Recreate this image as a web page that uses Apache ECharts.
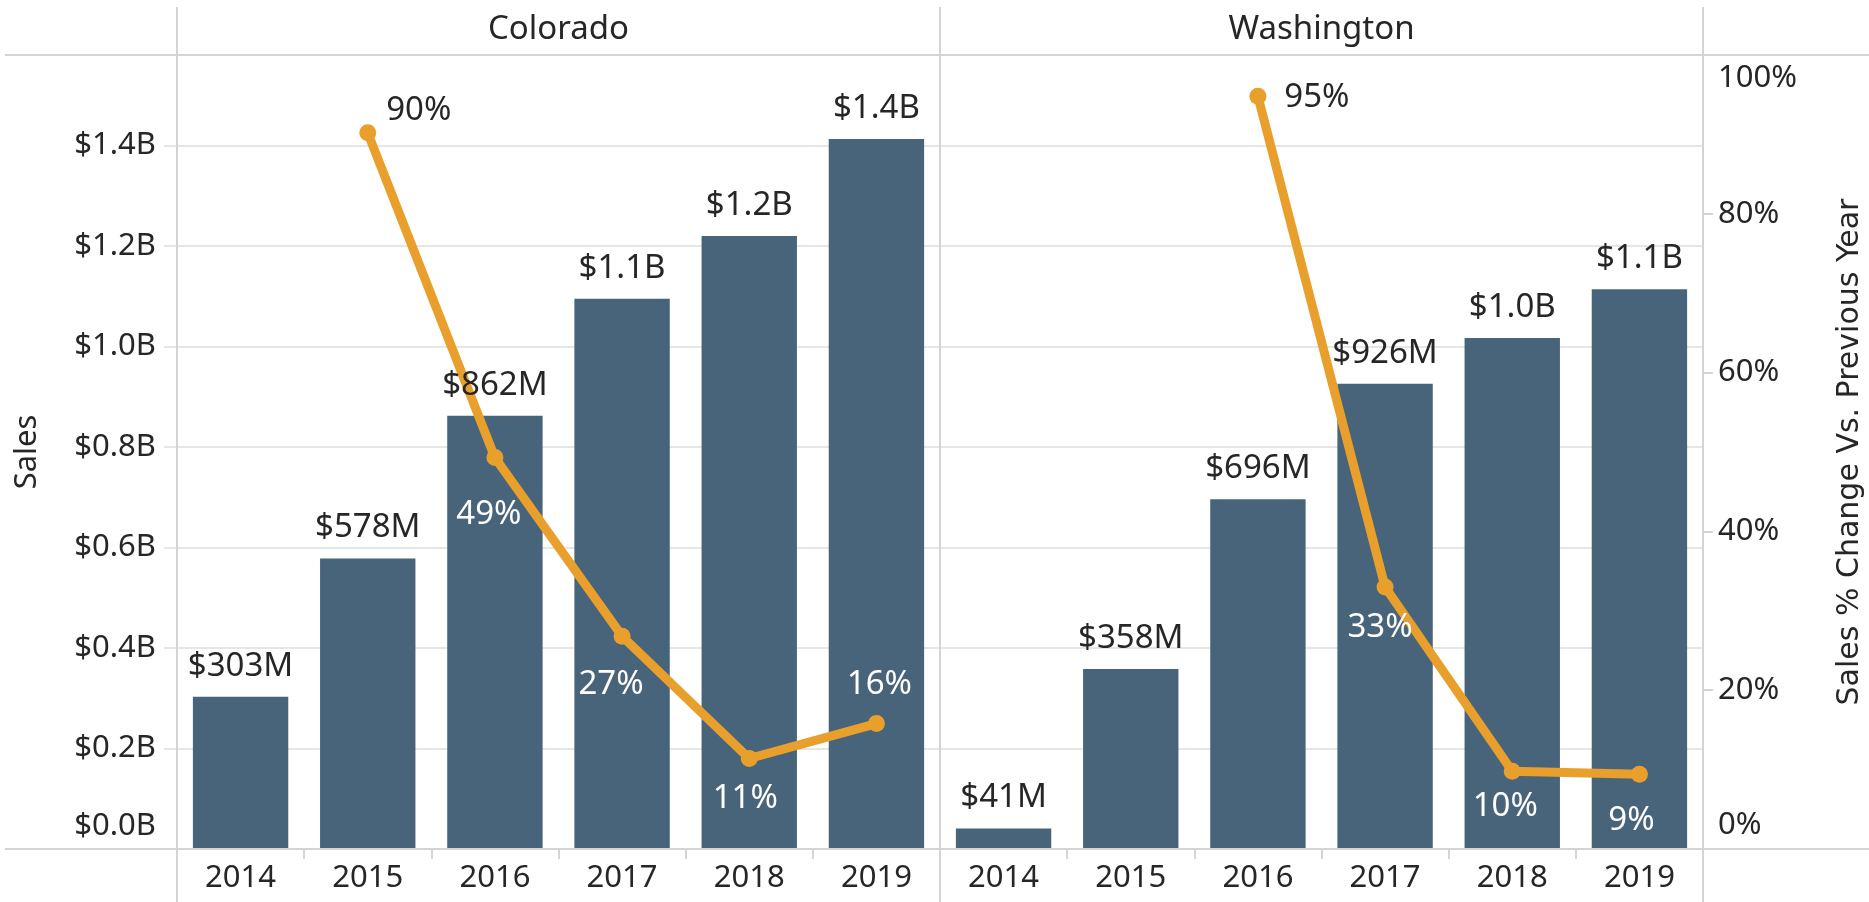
<!DOCTYPE html>
<html>
<head>
<meta charset="utf-8">
<title>Sales by state</title>
<script src="https://cdn.jsdelivr.net/npm/echarts@6/dist/echarts.min.js"></script>
<style>
  html, body { margin: 0; padding: 0; background: #fff; }
  #main { width: 1869px; height: 902px; }
</style>
</head>
<body>
<div id="main"></div>
<script>
// values: sales in $M, change vs previous year in %
var years = ["2014", "2015", "2016", "2017", "2018", "2019"];
var states = ["Colorado", "Washington"];
var coloradoSales = [303, 578, 862, 1095, 1220, 1413];
var washingtonSales = [41, 358, 696, 926, 1017, 1114];
var coloradoChange = [null, 90.2, 49.3, 26.8, 11.4, 15.8];
var washingtonChange = [null, null, 94.8, 33.0, 9.8, 9.4];
var salesTicks = [0, 200, 400, 600, 800, 1000, 1200, 1400];
var salesAxisMax = 1580;
var changeTicks = [0, 20, 40, 60, 80, 100];

var BAR = "#48647a";
var LINE = "#e99f2b";
var INK = "#262626";
var RULE = "#d4d4d4";
var GRIDLINE = "#e6e6e6";
var FONT = "'Noto Sans', sans-serif";

// panel edges
var xLeft = 177, xMid = 940, xRight = 1703;
var yTop = 55, yBase = 849;

// where each % label sits relative to its point
var coloradoLabel = [null, [51, -22, INK], [-6, 57, "#fff"], [-11, 48, "#fff"], [-4, 40, "#fff"], [3, -39, "#fff"]];
var washingtonLabel = [null, null, [59, 1, INK], [-5, 41, "#fff"], [-7, 35, "#fff"], [-8, 46, "#fff"]];

function salesText(v) {
  if (v >= 1000) return "$" + (v / 1000).toFixed(1) + "B";
  return "$" + v + "M";
}

function lineData(vals, labels) {
  return vals.map(function (v, i) {
    if (v == null) return null;
    var l = labels[i];
    return {
      value: v,
      label: { offset: [l[0], l[1]], color: l[2] }
    };
  });
}

function barSeries(data, xi, yi) {
  return {
    type: "bar",
    xAxisIndex: xi,
    yAxisIndex: yi,
    data: data,
    barWidth: "75%",
    itemStyle: { color: BAR },
    z: 2
  };
}

// bar value labels sit above the line, so they go in their own series
function barLabelSeries(data, xi, yi) {
  return {
    type: "scatter",
    xAxisIndex: xi,
    yAxisIndex: yi,
    data: data,
    symbolSize: 0,
    silent: true,
    itemStyle: { opacity: 1 },
    label: {
      show: true,
      position: "top",
      distance: 14,
      opacity: 1,
      formatter: function (p) { return salesText(p.value); },
      fontFamily: FONT,
      fontSize: 33,
      color: INK
    },
    z: 6
  };
}

function lineSeries(data, labels, xi, yi) {
  return {
    type: "line",
    xAxisIndex: xi,
    yAxisIndex: yi,
    data: lineData(data, labels),
    symbol: "circle",
    symbolSize: 17,
    lineStyle: { color: LINE, width: 9 },
    itemStyle: { color: LINE },
    label: {
      show: true,
      position: "inside",
      formatter: function (p) { return Math.round(p.value) + "%"; },
      fontFamily: FONT,
      fontSize: 33
    },
    z: 4
  };
}

function xAxis(gi) {
  return {
    type: "category",
    gridIndex: gi,
    data: years,
    axisLine: { show: false },
    axisTick: { show: true, length: 10, lineStyle: { color: RULE, width: 2 } },
    axisLabel: { fontFamily: FONT, fontSize: 31, color: INK, margin: 14 }
  };
}

var salesStep = salesTicks[1] - salesTicks[0];
var changeStep = changeTicks[1] - changeTicks[0];

var option = {
  animation: false,
  backgroundColor: "#fff",
  grid: [
    { left: xLeft, top: yTop, width: xMid - xLeft, height: yBase - yTop },
    { left: xMid, top: yTop, width: xRight - xMid, height: yBase - yTop }
  ],
  xAxis: [xAxis(0), xAxis(1)],
  yAxis: [
    {
      type: "value",
      gridIndex: 0,
      position: "left",
      min: salesTicks[0],
      max: salesAxisMax,
      interval: salesStep,
      axisLine: { show: false },
      axisTick: { show: true, length: 13, lineStyle: { color: GRIDLINE, width: 2 } },
      splitLine: { show: true, lineStyle: { color: GRIDLINE, width: 2 } },
      axisLabel: {
        margin: 21,
        showMaxLabel: false,
        fontFamily: FONT,
        fontSize: 31,
        color: INK,
        formatter: function (v) {
          if (v % salesStep !== 0) return "";
          var s = "$" + (v / 1000).toFixed(1) + "B";
          return v === 0 ? "{lo|" + s + "}" : s;
        },
        rich: { lo: { fontFamily: FONT, fontSize: 31, color: INK, padding: [0, 0, 46, 0] } }
      },
      name: "Sales",
      nameLocation: "middle",
      nameRotate: 90,
      nameGap: 134,
      nameTextStyle: { fontFamily: FONT, fontSize: 31, color: INK }
    },
    { type: "value", gridIndex: 0, position: "right", min: 0, max: 100, show: false, splitLine: { show: false } },
    {
      type: "value",
      gridIndex: 1,
      position: "left",
      min: salesTicks[0],
      max: salesAxisMax,
      interval: salesStep,
      axisLine: { show: false },
      axisTick: { show: false },
      axisLabel: { show: false },
      splitLine: { show: true, lineStyle: { color: GRIDLINE, width: 2 } }
    },
    {
      type: "value",
      gridIndex: 1,
      position: "right",
      min: changeTicks[0],
      max: changeTicks[changeTicks.length - 1],
      interval: changeStep,
      axisLine: { show: false },
      axisTick: { show: true, length: 10, lineStyle: { color: RULE, width: 2 } },
      splitLine: { show: false },
      axisLabel: {
        margin: 15,
        fontFamily: FONT,
        fontSize: 31,
        color: INK,
        formatter: function (v) {
          var s = v + "%";
          if (v === changeTicks[0]) return "{lo|" + s + "}";
          if (v === changeTicks[changeTicks.length - 1]) return "{hi|" + s + "}";
          return s;
        },
        rich: {
          lo: { fontFamily: FONT, fontSize: 31, color: INK, padding: [0, 0, 48, 0] },
          hi: { fontFamily: FONT, fontSize: 31, color: INK, padding: [46, 0, 0, 0] }
        }
      },
      name: "Sales % Change Vs. Previous Year",
      nameLocation: "middle",
      nameRotate: 90,
      nameGap: 132,
      nameTextStyle: { fontFamily: "'DejaVu Sans', sans-serif", fontSize: 30, color: INK }
    }
  ],
  series: [
    barSeries(coloradoSales, 0, 0),
    barSeries(washingtonSales, 1, 2),
    lineSeries(coloradoChange, coloradoLabel, 0, 1),
    lineSeries(washingtonChange, washingtonLabel, 1, 3),
    barLabelSeries(coloradoSales, 0, 0),
    barLabelSeries(washingtonSales, 1, 2)
  ],
  graphic: [
    { type: "line", shape: { x1: xLeft, y1: 7, x2: xLeft, y2: 902 }, style: { stroke: RULE, lineWidth: 2 }, z: 10 },
    { type: "line", shape: { x1: xMid, y1: 7, x2: xMid, y2: 902 }, style: { stroke: RULE, lineWidth: 2 }, z: 10 },
    { type: "line", shape: { x1: xRight, y1: 7, x2: xRight, y2: 902 }, style: { stroke: RULE, lineWidth: 2 }, z: 10 },
    { type: "line", shape: { x1: 5, y1: yTop, x2: 1869, y2: yTop }, style: { stroke: RULE, lineWidth: 2 }, z: 10 },
    { type: "line", shape: { x1: 5, y1: yBase, x2: 1869, y2: yBase }, style: { stroke: RULE, lineWidth: 2 }, z: 10 },
    {
      type: "text", x: (xLeft + xMid) / 2, y: 30,
      style: { text: states[0], fontFamily: FONT, fontSize: 33, fill: INK, textAlign: "center", textVerticalAlign: "middle" }
    },
    {
      type: "text", x: (xMid + xRight) / 2, y: 30,
      style: { text: states[1], fontFamily: FONT, fontSize: 33, fill: INK, textAlign: "center", textVerticalAlign: "middle" }
    }
  ]
};

var chart = echarts.init(document.getElementById("main"));
chart.setOption(option);
</script>
</body>
</html>
